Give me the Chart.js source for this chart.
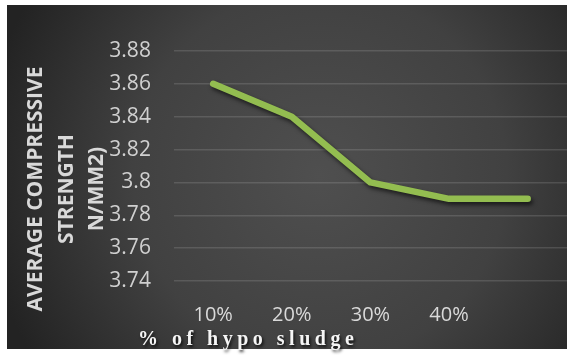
<!DOCTYPE html>
<html>
<head>
<meta charset="utf-8">
<script src="https://cdn.jsdelivr.net/npm/chart.js@4/dist/chart.umd.min.js"></script>
<style>
  html, body { margin: 0; padding: 0; background: #ffffff; }
  #c { display: block; }
</style>
</head>
<body>
<canvas id="c" width="567" height="360"></canvas>
<script>
const categories = ['10%', '20%', '30%', '40%', ''];
const strength = [3.86, 3.84, 3.80, 3.79, 3.79];
const yMin = 3.74;
const yMax = 3.88;
const yStep = 0.02;
const yTitleLines = ['AVERAGE COMPRESSIVE', 'STRENGTH', 'N/MM2)'];
const xTitle = '% of hypo sludge';

const bgPlugin = {
  id: 'bg',
  beforeDraw(chart) {
    const ctx = chart.ctx;
    ctx.save();
    ctx.fillStyle = '#ffffff';
    ctx.fillRect(0, 0, chart.width, chart.height);
    const g = ctx.createRadialGradient(320, 175, 0, 320, 175, 340);
    g.addColorStop(0, '#4f4f4f');
    g.addColorStop(0.55, '#414141');
    g.addColorStop(1, '#232323');
    ctx.fillStyle = g;
    ctx.fillRect(7, 5, chart.width - 7, 344);
    ctx.restore();
  }
};

const titleTweak = {
  id: 'titleTweak',
  beforeDraw(chart) {
    const xs = chart.scales.x, ys = chart.scales.y;
    if (xs && !xs._wrapped) {
      const orig = xs.drawTitle.bind(xs);
      xs.drawTitle = function () {
        const ctx = this.ctx;
        ctx.save();
        ctx.translate(-36, 2);
        ctx.letterSpacing = '4.5px';
        ctx.shadowColor = 'rgba(0,0,0,0.75)';
        ctx.shadowBlur = 3;
        ctx.shadowOffsetX = 1.5;
        ctx.shadowOffsetY = 2;
        orig();
        ctx.restore();
      };
      xs._wrapped = true;
    }
    if (ys && !ys._wrapped) {
      const orig = ys.drawTitle.bind(ys);
      ys.drawTitle = function () {
        const ctx = this.ctx;
        ctx.save();
        ctx.translate(1, 23);
        orig();
        ctx.restore();
      };
      ys._wrapped = true;
    }
  }
};

const lineShadow = {
  id: 'lineShadow',
  beforeDatasetDraw(chart) {
    const ctx = chart.ctx;
    ctx.save();
    ctx.shadowColor = 'rgba(0,0,0,0.6)';
    ctx.shadowBlur = 4;
    ctx.shadowOffsetX = 2;
    ctx.shadowOffsetY = 3;
  },
  afterDatasetDraw(chart) {
    chart.ctx.restore();
  }
};

new Chart(document.getElementById('c'), {
  type: 'line',
  data: {
    labels: categories,
    datasets: [{
      data: strength,
      borderColor: '#93bd50',
      borderWidth: 6.5,
      borderCapStyle: 'round',
      borderJoinStyle: 'round',
      pointRadius: 0,
      pointHoverRadius: 0,
      tension: 0,
      fill: false
    }]
  },
  options: {
    responsive: false,
    animation: false,
    events: [],
    layout: { padding: { left: 20, right: -5, top: 51, bottom: 10 } },
    plugins: {
      legend: { display: false },
      tooltip: { enabled: false }
    },
    scales: {
      x: {
        type: 'category',
        offset: true,
        grid: { display: false, drawTicks: false },
        border: { display: false },
        ticks: {
          color: '#d9d9d9',
          font: { family: 'Open Sans', size: 20 },
          padding: 22,
          maxRotation: 0,
          autoSkip: false
        },
        title: {
          display: true,
          text: xTitle,
          align: 'start',
          color: '#f5f5f5',
          font: { family: 'Liberation Serif', size: 20, weight: 'bold', lineHeight: 1.2 },
          padding: { top: -23, bottom: 0 }
        }
      },
      y: {
        min: yMin,
        max: yMax,
        grid: { color: 'rgba(255,255,255,0.13)', lineWidth: 1.5, drawTicks: false },
        border: { display: false },
        ticks: {
          stepSize: yStep,
          color: '#d0d0d0',
          font: { family: 'Open Sans', size: 21 },
          padding: 23,
          callback: v => String(Number(v.toFixed(2)))
        },
        title: {
          display: true,
          text: yTitleLines,
          color: '#d9d9d9',
          font: { family: 'Open Sans', size: 21, weight: 'bold', lineHeight: 1.45 },
          padding: { top: 0, bottom: -25 }
        }
      }
    }
  },
  plugins: [bgPlugin, titleTweak, lineShadow]
});
</script>
</body>
</html>
